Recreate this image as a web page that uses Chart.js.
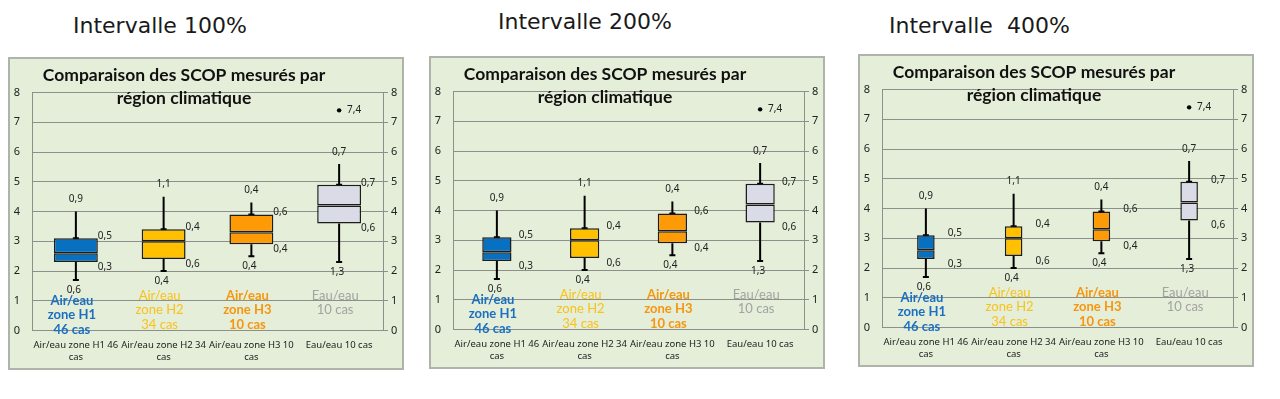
<!DOCTYPE html>
<html lang="fr">
<head>
    <meta charset="UTF-8">
    <title>Comparaison des SCOP</title>
    <script src="https://cdn.jsdelivr.net/npm/chart.js"></script>
    <style>
        body { margin: 0; width: 1280px; height: 399px; background: #fff; position: relative; overflow: hidden; font-family: "DejaVu Sans", sans-serif; }
        .heading { position: absolute; font-size: 22px; line-height: 24px; color: #1a1a1a; white-space: pre; }
        .panel { position: absolute; width: 396px; height: 313px; background: #e4eed8; border: 2px solid #b0b3ac; box-sizing: border-box; }
        .panel canvas { position: absolute; left: -2px; top: -2px; }
    </style>
</head>
<body>
    <div class="heading" style="left:73px;top:14px">Intervalle 100%</div>
    <div class="heading" style="left:498px;top:10px">Intervalle 200%</div>
    <div class="heading" style="left:889px;top:14px">Intervalle  400%</div>

    <div class="panel" style="left:8px;top:57px"><canvas id="c0" width="396" height="313"></canvas></div>
    <div class="panel" style="left:429px;top:56px"><canvas id="c1" width="396" height="313"></canvas></div>
    <div class="panel" style="left:858px;top:54px"><canvas id="c2" width="396" height="313"></canvas></div>

    <script>
        // données
        var categories = [['Air/eau zone H1 46', 'cas'], ['Air/eau zone H2 34', 'cas'], ['Air/eau zone H3 10', 'cas'], ['Eau/eau 10 cas']];
        var groupLabels = [['Air/eau', 'zone H1', '46 cas'], ['Air/eau', 'zone H2', '34 cas'], ['Air/eau', 'zone H3', '10 cas'], ['Eau/eau', '10 cas']];
        var mins = [1.7, 2.0, 2.5, 2.3];
        var q1 = [2.3, 2.4, 2.9, 3.6];
        var medians = [2.6, 3.0, 3.3, 4.2];
        var q3 = [3.1, 3.4, 3.9, 4.9];
        var maxs = [4.0, 4.5, 4.3, 5.6];
        var outliers = [null, null, null, 7.4];
        var yTicks = [0, 1, 2, 3, 4, 5, 6, 7, 8];
        var gapWidths = [100, 200, 400];
        var chartTitle = ['Comparaison des SCOP mesurés par', 'région climatique'];

        var boxColors = ['#0870c0', '#ffc000', '#fe9a05', '#d9dbe7'];
        var textColors = ['#1a6fc0', '#f9c21a', '#f7960e', '#a3a3a3'];
        var boldGroup = [true, false, true, false];
        var gridColor = '#8d8f8a';
        var smallFont = 'Noto Sans';

        function fmt(v) {
            return v.toFixed(1).replace('.', ',');
        }

        var titlePlugin = {
            id: 'titlePlugin',
            afterDraw: function (chart) {
                var ctx = chart.ctx;
                ctx.save();
                ctx.font = 'bold 17.5px Lato';
                ctx.fillStyle = '#111';
                ctx.textAlign = 'center';
                ctx.textBaseline = 'middle';
                ctx.fillText(chartTitle[0], 176, 18);
                ctx.fillText(chartTitle[1], 176, 41);
                ctx.restore();
            }
        };

        var labelPlugin = {
            id: 'labelPlugin',
            afterDatasetsDraw: function (chart) {
                var ctx = chart.ctx;
                var x = chart.scales.x, y = chart.scales.y;
                ctx.save();
                ctx.textAlign = 'center';
                ctx.textBaseline = 'middle';
                for (var i = 0; i < categories.length; i++) {
                    var cx = x.getPixelForValue(i);
                    ctx.font = '10px "' + smallFont + '"';
                    ctx.fillStyle = '#222';
                    ctx.fillText(fmt(maxs[i] - q3[i]), cx, y.getPixelForValue(maxs[i]) - 12);
                    ctx.fillText(fmt(q3[i] - medians[i]), cx + 29, y.getPixelForValue(q3[i]) - 2);
                    ctx.fillText(fmt(medians[i] - q1[i]), cx + 29, y.getPixelForValue(q1[i]) + 5);
                    ctx.fillText(fmt(q1[i] - mins[i]), cx - 2, y.getPixelForValue(mins[i]) + 10);
                    if (outliers[i] !== null) {
                        ctx.fillText(fmt(outliers[i]), cx + 15, y.getPixelForValue(outliers[i]));
                    }
                    // étiquette colorée dans la zone de tracé
                    ctx.font = (boldGroup[i] ? 'bold ' : '') + '13px Lato';
                    ctx.fillStyle = textColors[i];
                    var top = y.getPixelForValue(1.0) - (i === 0 ? 0 : 5);
                    for (var k = 0; k < groupLabels[i].length; k++) {
                        ctx.fillText(groupLabels[i][k], cx - 4, top + k * 14.3);
                    }
                }
                ctx.restore();
            }
        };

        function drawBoxChart(canvasId, gap) {
            var bp = 1 / (1 + gap / 100);
            var common = { type: 'bar', grouped: false, categoryPercentage: 1, barPercentage: bp };
            new Chart(document.getElementById(canvasId), {
                type: 'bar',
                data: {
                    labels: categories,
                    datasets: [
                        Object.assign({
                            data: q1.map(function (v, i) { return [v, medians[i]]; }),
                            backgroundColor: boxColors, borderColor: '#1c1c1c', borderWidth: 1.5, borderSkipped: false
                        }, common),
                        Object.assign({
                            data: medians.map(function (v, i) { return [v, q3[i]]; }),
                            backgroundColor: boxColors, borderColor: '#1c1c1c', borderWidth: 1.5, borderSkipped: false
                        }, common),
                        Object.assign({}, common, {
                            data: mins.map(function (v, i) { return [v, q1[i]]; }),
                            backgroundColor: '#000', maxBarThickness: 2
                        }),
                        Object.assign({}, common, {
                            data: q3.map(function (v, i) { return [v, maxs[i]]; }),
                            backgroundColor: '#000', maxBarThickness: 2
                        }),
                        { type: 'line', data: mins, showLine: false, pointStyle: 'line', pointRadius: 3, pointBorderWidth: 2, pointBorderColor: '#000' },
                        { type: 'line', data: q3, showLine: false, pointStyle: 'line', pointRadius: 3, pointBorderWidth: 2, pointBorderColor: '#000' },
                        { type: 'line', data: outliers, showLine: false, pointRadius: 2.2, pointBackgroundColor: '#000', pointBorderColor: '#000', pointBorderWidth: 0 }
                    ]
                },
                options: {
                    responsive: false,
                    animation: false,
                    events: [],
                    layout: { padding: { top: 35.5, left: 0, right: 0, bottom: 0 } },
                    plugins: { legend: { display: false }, tooltip: { enabled: false }, title: { display: false } },
                    scales: {
                        x: {
                            grid: { display: false },
                            border: { display: false },
                            ticks: { font: { family: smallFont, size: 9.5, lineHeight: 1.25 }, color: '#222', padding: 1, maxRotation: 0, autoSkip: false },
                            afterFit: function (s) { s.height = 39.5; }
                        },
                        y: {
                            min: 0, max: 8,
                            afterBuildTicks: function (s) { s.ticks = yTicks.map(function (v) { return { value: v }; }); },
                            grid: { color: gridColor, drawTicks: false },
                            border: { color: gridColor },
                            ticks: { font: { family: smallFont, size: 11 }, color: '#222', padding: 12 },
                            afterFit: function (s) { s.width = 24; }
                        },
                        y2: {
                            position: 'right',
                            min: 0, max: 8,
                            afterBuildTicks: function (s) { s.ticks = yTicks.map(function (v) { return { value: v }; }); },
                            grid: { drawOnChartArea: false, color: gridColor, tickLength: 5 },
                            border: { color: gridColor },
                            ticks: { font: { family: smallFont, size: 11 }, color: '#222', padding: 3 },
                            afterFit: function (s) { s.width = 21; }
                        }
                    }
                },
                plugins: [labelPlugin, titlePlugin]
            });
        }

        gapWidths.forEach(function (g, i) {
            drawBoxChart('c' + i, g);
        });
    </script>
</body>
</html>
